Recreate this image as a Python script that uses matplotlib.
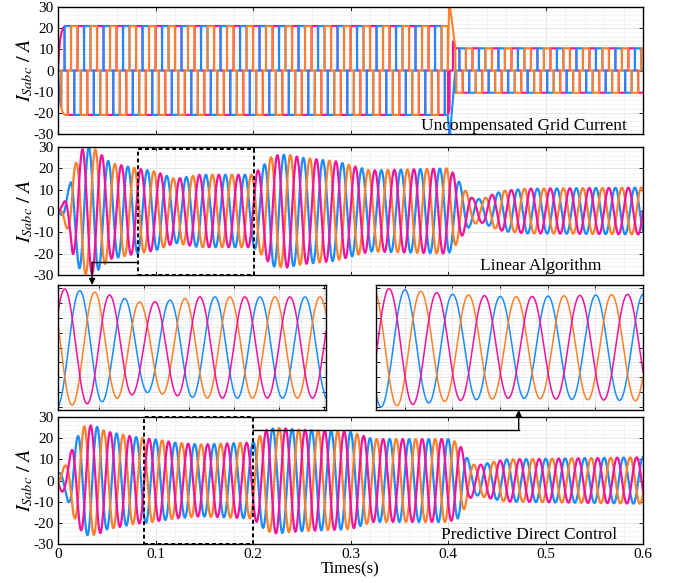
import numpy as np
import matplotlib
matplotlib.use('Agg')
import matplotlib.pyplot as plt
from matplotlib.patches import Rectangle, FancyArrowPatch
from matplotlib.lines import Line2D
from matplotlib.ticker import MultipleLocator

plt.rcParams['font.family'] = ['Liberation Serif', 'DejaVu Serif']
plt.rcParams['mathtext.fontset'] = 'stix'
plt.rcParams['axes.unicode_minus'] = False

# ---- values ----
f_grid = 50.0                      # Hz
c_a, c_b, c_c = '#f0139e', '#1a8cff', '#ff7f2a'   # magenta, blue, orange

# uncompensated grid current: 120 deg blocks, plateau level over time
unc_t = [0, 0.001, 0.002, 0.0035, 0.005, 0.007, 0.3998, 0.4075, 0.6]
unc_amp = [0, 8, 14, 18, 20, 21, 21, 10.5, 10.5]
unc_phase = 30        # deg, phase a at t=0
unc_shift = 270       # deg, phase jump at the load step
spike_t_c = [0.3998, 0.4012, 0.4075]
spike_c = [0, 33, 11]
spike_t_b = [0.3998, 0.4015, 0.4075]
spike_b = [-21, -33, 0]

# linear algorithm: peak envelope
lin_t = [0, 0.005, 0.008, 0.012, 0.015, 0.019, 0.022, 0.025, 0.031, 0.038, 0.054,
         0.08, 0.1, 0.12, 0.145, 0.2, 0.21, 0.22, 0.235, 0.25, 0.285, 0.32, 0.36,
         0.4, 0.405, 0.417, 0.425, 0.435, 0.447, 0.457, 0.48, 0.6]
lin_amp = [0, 3, 7, 12, 20, 23, 27, 29, 30, 29, 22.5,
           20, 18.5, 15, 17, 17, 21, 26, 26.5, 25, 23.3, 19, 19.5,
           20, 18, 10, 6, 5.5, 8, 9.5, 10.5, 11]
lin_phase = 0

# predictive direct control: peak envelope
pdc_t = [0, 0.0085, 0.012, 0.0153, 0.022, 0.027, 0.034, 0.043, 0.048, 0.077, 0.1,
         0.12, 0.145, 0.197, 0.2, 0.207, 0.214, 0.224, 0.248, 0.3, 0.323, 0.4,
         0.41, 0.417, 0.422, 0.429, 0.443, 0.46, 0.6]
pdc_amp = [3, 7.8, 11.7, 16.3, 22.5, 25.7, 26, 25, 23.3, 20.7, 19.4,
           17.9, 17, 17.9, 18, 21, 24, 25, 24, 23, 19.6, 19.6,
           18, 13.3, 8.5, 7, 8.5, 10, 11]
pdc_phase = 207

lin_zoom = (0.082, 0.201)
pdc_zoom = (0.088, 0.200)
panel_titles = ['Uncompensated Grid Current', 'Linear Algorithm', 'Predictive Direct Control']
title_pos = [(0.973, 0.03), (0.928, 0.04), (0.955, 0.04)]

t = np.arange(0, 0.6, 2e-5)
w = 2 * np.pi * f_grid


def three_phase(env_t, env_a, phase_deg):
    env = np.interp(t, env_t, env_a)
    ph = np.deg2rad(phase_deg)
    a = env * np.sin(w * t + ph)
    b = env * np.sin(w * t + ph - 2 * np.pi / 3)
    c = env * np.sin(w * t + ph + 2 * np.pi / 3)
    return a, b, c


def blocks(theta):
    s = np.sin(theta)
    return np.clip((s - 0.5) / 0.03, 0, 1) - np.clip((-s - 0.5) / 0.03, 0, 1)


# uncompensated current
env_u = np.interp(t, unc_t, unc_amp)
th = w * t + np.deg2rad(unc_phase) + np.where(t >= 0.4, np.deg2rad(unc_shift), 0)
ua = env_u * blocks(th)
ub = env_u * blocks(th - 2 * np.pi / 3)
uc = env_u * blocks(th + 2 * np.pi / 3)
m = (t >= spike_t_c[0]) & (t <= spike_t_c[-1])
uc[m] = np.interp(t[m], spike_t_c, spike_c)
m = (t >= spike_t_b[0]) & (t <= spike_t_b[-1])
ub[m] = np.interp(t[m], spike_t_b, spike_b)

la, lb, lc = three_phase(lin_t, lin_amp, lin_phase)
pa, pb, pc = three_phase(pdc_t, pdc_amp, pdc_phase)

W, H = 676, 583
fig = plt.figure(figsize=(W / 100, H / 100), dpi=100)


def px_axes(x0, y0, x1, y1):
    return fig.add_axes([x0 / W, 1 - y1 / H, (x1 - x0) / W, (y1 - y0) / H])


ax_top = px_axes(58, 7, 643, 134)
ax_mid = px_axes(58, 147, 643, 275)
ax_bot = px_axes(58, 417, 643, 544)
ax_in1 = px_axes(58, 285, 326, 410)
ax_in2 = px_axes(376, 285, 643, 410)


def grid_style(ax, xmaj, xmin, ymaj, ymin):
    ax.xaxis.set_major_locator(MultipleLocator(xmaj))
    ax.xaxis.set_minor_locator(MultipleLocator(xmin))
    ax.yaxis.set_major_locator(MultipleLocator(ymaj))
    ax.yaxis.set_minor_locator(MultipleLocator(ymin))
    ax.tick_params(which='major', direction='in', top=True, right=True, length=3,
                   width=0.6, labelsize=11, pad=3)
    ax.tick_params(which='minor', length=0)
    ax.grid(which='major', color='#dcdcdc', lw=0.5)
    ax.grid(which='minor', color='#f0f0f0', lw=0.5)
    ax.set_axisbelow(True)
    for sp in ax.spines.values():
        sp.set_linewidth(1.0)


for ax, (a, b, c), title, pos in zip([ax_top, ax_mid, ax_bot],
                                     [(ua, ub, uc), (la, lb, lc), (pa, pb, pc)],
                                     panel_titles, title_pos):
    if ax is ax_top:
        ax.plot(t, a, color=c_a, lw=1.5)
        ax.plot(t, b, color=c_b, lw=1.5)
        ax.plot(t, c, color=c_c, lw=1.5)
    else:
        ax.plot(t, b, color=c_b, lw=1.6)
        ax.plot(t, c, color=c_c, lw=1.6)
        ax.plot(t, a, color=c_a, lw=1.6)
    ax.set_xlim(0, 0.6)
    ax.set_ylim(-30, 30)
    grid_style(ax, 0.1, 0.02, 10, 2)
    ax.set_ylabel(r'$I_{Sabc}\ /\ A$', fontsize=14.5, labelpad=-1)
    ax.text(pos[0], pos[1], title, transform=ax.transAxes, ha='right', va='baseline',
            fontsize=12.5)
    if ax is not ax_bot:
        ax.tick_params(labelbottom=False)

ax_bot.set_xticks([0, 0.1, 0.2, 0.3, 0.4, 0.5, 0.6])
ax_bot.set_xticklabels(['0', '0.1', '0.2', '0.3', '0.4', '0.5', '0.6'])
ax_bot.set_xlabel('Times(s)', fontsize=12, labelpad=0)

# zoomed insets
for ax, (a, b, c), win in zip([ax_in1, ax_in2], [(la, lb, lc), (pa, pb, pc)],
                              [lin_zoom, pdc_zoom]):
    ax.plot(t, b, color=c_b, lw=1.1)
    ax.plot(t, c, color=c_c, lw=1.1)
    ax.plot(t, a, color=c_a, lw=1.1)
    ax.set_xlim(*win)
    ax.set_ylim(-21, 21)
    grid_style(ax, 0.02, 0.005, 5, 1)
    ax.tick_params(labelbottom=False, labelleft=False)

# dashed zoom boxes
for ax, win, hgt in [(ax_mid, lin_zoom, 0.985), (ax_bot, pdc_zoom, 1.0)]:
    ax.add_patch(Rectangle((win[0], 0), win[1] - win[0], hgt,
                           transform=ax.get_xaxis_transform(), fill=False,
                           ls=(0, (2, 1.5)), lw=1.4, color='k', clip_on=False, zorder=5))

to_fig = fig.transFigure.inverted()


def fig_xy(ax, x, y):
    return to_fig.transform(ax.transData.transform((x, y)))


# connector from the linear box to the left inset
p0 = fig_xy(ax_mid, lin_zoom[0], -24)
p1 = fig_xy(ax_mid, 0.035, -24)
p2 = (p1[0], to_fig.transform(ax_in1.transAxes.transform((0, 1)))[1])
fig.add_artist(Line2D([p0[0], p1[0]], [p0[1], p1[1]], transform=fig.transFigure,
                      color='k', lw=1))
fig.add_artist(FancyArrowPatch(p1, p2, transform=fig.transFigure, arrowstyle='-|>',
                               mutation_scale=9, color='k', lw=1, shrinkA=0, shrinkB=0))

# connector from the PDC box to the right inset
q0 = fig_xy(ax_bot, pdc_zoom[1], 24)
q1 = fig_xy(ax_bot, 0.4725, 24)
q2 = (q1[0], to_fig.transform(ax_in2.transAxes.transform((0, 0)))[1])
fig.add_artist(Line2D([q0[0], q1[0]], [q0[1], q1[1]], transform=fig.transFigure,
                      color='k', lw=1))
fig.add_artist(FancyArrowPatch(q1, q2, transform=fig.transFigure, arrowstyle='-|>',
                               mutation_scale=9, color='k', lw=1, shrinkA=0, shrinkB=0))

fig.savefig('out.png', dpi=100, facecolor='white')
